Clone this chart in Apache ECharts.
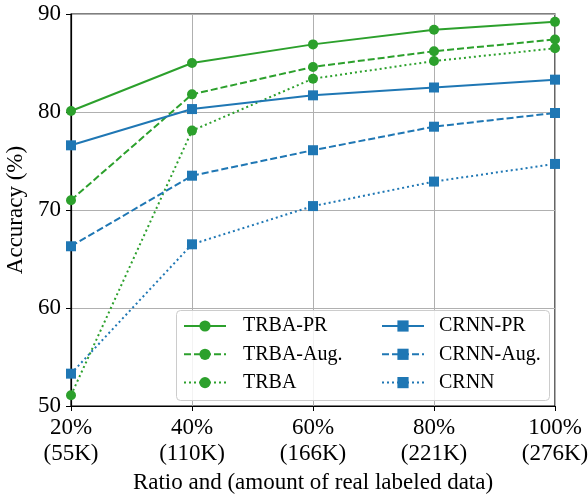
<!DOCTYPE html>
<html>
<head>
<meta charset="utf-8">
<script src="https://cdn.jsdelivr.net/npm/echarts@6/dist/echarts.min.js"></script>
<style>html,body{margin:0;padding:0;background:#fff}#c{width:588px;height:496px}</style>
</head>
<body>
<div id="c"></div>
<script>
var categories = ['20%\n(55K)', '40%\n(110K)', '60%\n(166K)', '80%\n(221K)', '100%\n(276K)'];
var trbaPR   = [80.1, 85.0, 86.9, 88.4, 89.2];
var trbaAug  = [71.0, 81.8, 84.6, 86.2, 87.4];
var trba     = [51.1, 78.1, 83.4, 85.2, 86.5];
var crnnPR   = [76.6, 80.3, 81.7, 82.5, 83.3];
var crnnAug  = [66.3, 73.5, 76.1, 78.5, 79.9];
var crnn     = [53.3, 66.5, 70.4, 72.9, 74.7];
var yTicks = {min: 50, max: 90, interval: 10};

var GREEN = '#2ca02c', BLUE = '#1f77b4';
var FONT = 'Liberation Serif';
var DASH = [7, 3], DOT = [2, 3];

function mk(name, data, color, type, symbol) {
  return {
    name: name, type: 'line', data: data, z: 2,
    symbol: symbol, symbolSize: 10,
    color: color,
    lineStyle: {color: color, width: 2, type: type},
    itemStyle: {color: color},
    emphasis: {disabled: true},
    animation: false
  };
}

var chart = echarts.init(document.getElementById('c'), null, {renderer: 'canvas'});
chart.setOption({
  animation: false,
  backgroundColor: '#fff',
  grid: {left: 71, right: 33, top: 14, bottom: 90, containLabel: false, outerBoundsMode: 'none',
         show: true, borderColor: '#000', borderWidth: 1.2},
  xAxis: {
    type: 'category', data: categories, boundaryGap: false,
    name: 'Ratio and (amount of real labeled data)', nameLocation: 'middle', nameGap: 65,
    nameTextStyle: {fontFamily: FONT, fontSize: 23, color: '#000'},
    axisLine: {lineStyle: {color: '#000', width: 1.2}},
    axisTick: {show: true, length: 5, lineStyle: {color: '#000'}},
    axisLabel: {fontFamily: FONT, fontSize: 23, color: '#000', lineHeight: 26, margin: 9},
    splitLine: {show: true, lineStyle: {color: '#b0b0b0', width: 1}}
  },
  yAxis: {
    type: 'value', min: yTicks.min, max: yTicks.max, interval: yTicks.interval,
    name: 'Accuracy (%)', nameLocation: 'middle', nameGap: 37,
    nameTextStyle: {fontFamily: FONT, fontSize: 23, color: '#000'},
    axisLine: {show: true, lineStyle: {color: '#000', width: 1.2}},
    axisTick: {show: true, length: 5, lineStyle: {color: '#000'}},
    axisLabel: {fontFamily: FONT, fontSize: 23, color: '#000', margin: 10},
    splitLine: {show: true, lineStyle: {color: '#b0b0b0', width: 1}}
  },
  graphic: [{
    type: 'rect', z: 10, left: 176, top: 310,
    shape: {width: 373, height: 90, r: 4},
    style: {fill: 'rgba(255,255,255,0.85)', stroke: '#cccccc', lineWidth: 1}
  }],
  legend: [
    {data: ['TRBA-PR', 'TRBA-Aug.', 'TRBA'], orient: 'vertical', left: 178, top: 311, z: 20,
     itemWidth: 42, itemHeight: 14, itemGap: 8.3,
     textStyle: {fontFamily: FONT, fontSize: 20, color: '#000', padding: [0, 0, 0, 12]}},
    {data: ['CRNN-PR', 'CRNN-Aug.', 'CRNN'], orient: 'vertical', left: 376, top: 311, z: 20,
     itemWidth: 42, itemHeight: 14, itemGap: 8.3,
     textStyle: {fontFamily: FONT, fontSize: 20, color: '#000', padding: [0, 0, 0, 10]}}
  ],
  series: [
    mk('TRBA-PR', trbaPR, GREEN, 'solid', 'circle'),
    mk('TRBA-Aug.', trbaAug, GREEN, DASH, 'circle'),
    mk('TRBA', trba, GREEN, DOT, 'circle'),
    mk('CRNN-PR', crnnPR, BLUE, 'solid', 'rect'),
    mk('CRNN-Aug.', crnnAug, BLUE, DASH, 'rect'),
    mk('CRNN', crnn, BLUE, DOT, 'rect')
  ]
});
</script>
</body>
</html>
